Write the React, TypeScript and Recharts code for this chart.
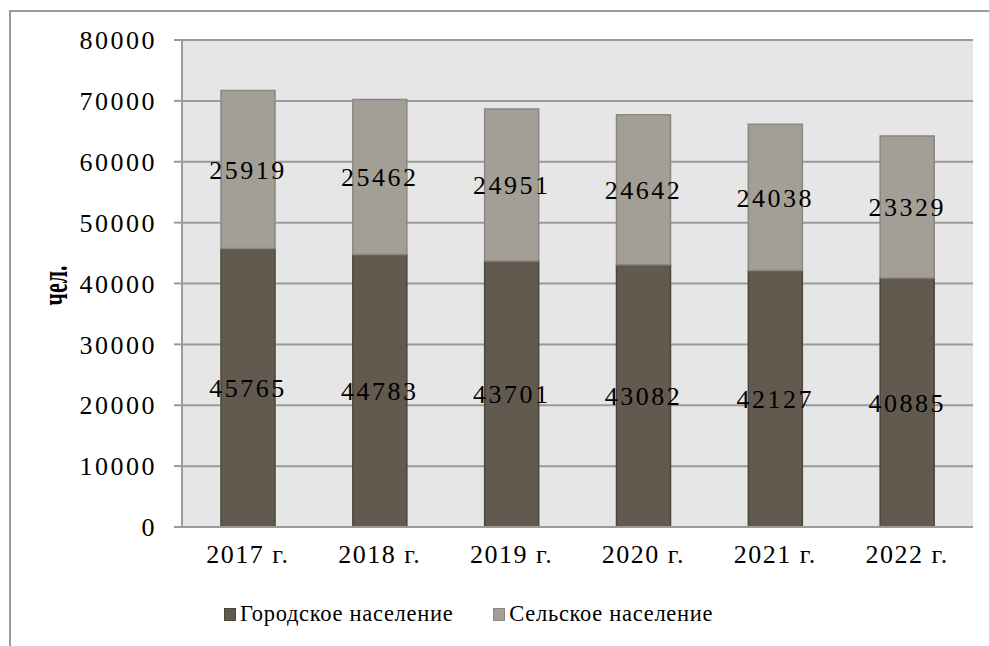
import { BarChart, Bar, XAxis, YAxis, CartesianGrid, Legend, LabelList } from 'recharts';

const YEARS = ['2017 г.', '2018 г.', '2019 г.', '2020 г.', '2021 г.', '2022 г.'];
const URBAN = [45765, 44783, 43701, 43082, 42127, 40885];
const RURAL = [25919, 25462, 24951, 24642, 24038, 23329];
const Y_TICKS = [0, 10000, 20000, 30000, 40000, 50000, 60000, 70000, 80000];
const EDGE_TICKS = [0, 1, 2, 3, 4, 5, 6];
const URBAN_NAME = 'Городское население';
const RURAL_NAME = 'Сельское население';
const UNIT = 'чел.';

const FONT = "'Liberation Serif', 'Times New Roman', serif";
const AXIS = '#9a9a9a';
const DARK = '#635a4f';
const DARK_EDGE = '#4b453d';
const LIGHT = '#a39f97';
const LIGHT_EDGE = '#8a8780';

const data = YEARS.map((year, i) => ({ year, urban: URBAN[i], rural: RURAL[i] }));

const numTxt = { fill: '#000', fontSize: 26, fontFamily: FONT, letterSpacing: 2.5 };
const catTxt = { fill: '#000', fontSize: 26, fontFamily: FONT, letterSpacing: 1.5 };

function UnitLabel(props: any) {
  const vb = props.viewBox || { x: 0, y: 0, width: 0, height: 0 };
  const cy = vb.y + vb.height / 2 + 2;
  return (
    <text
      transform={`translate(58,${cy}) rotate(-90) scale(1,1.6)`}
      textAnchor="middle"
      dy="0.25em"
      fontFamily={FONT}
      fontWeight="bold"
      fontSize={22}
      fill="#000"
    >
      {UNIT}
    </text>
  );
}

function LegendBox(props: any) {
  const items = props.payload || [];
  return (
    <div style={{ display: 'flex', alignItems: 'center', fontFamily: FONT, fontSize: 22.5, letterSpacing: 0.7, color: '#000', whiteSpace: 'nowrap' }}>
      {items.map((it: any, i: number) => {
        const dark = it.dataKey === 'urban';
        return (
          <div key={i} style={{ display: 'flex', alignItems: 'center', marginRight: i === 0 ? 40 : 0 }}>
            <span style={{ display: 'inline-block', width: 10, height: 11, background: dark ? DARK : LIGHT, border: `1px solid ${dark ? DARK_EDGE : LIGHT_EDGE}`, marginRight: 4 }} />
            <span>{it.value}</span>
          </div>
        );
      })}
    </div>
  );
}

export default function App() {
  return (
    <div style={{ position: 'relative', width: 989, height: 646, overflow: 'hidden' }}>
      <style>{'html,body{margin:0;padding:0;overflow:hidden}'}</style>
      <div style={{ position: 'absolute', left: 9, top: 10, width: 980, height: 2, background: AXIS }} />
      <div style={{ position: 'absolute', left: 9, top: 10, width: 2, height: 636, background: AXIS }} />
      <BarChart width={989} height={646} data={data} margin={{ top: 40, right: 16, bottom: 79, left: 0 }} style={{ position: 'absolute', left: 0, top: 0 }}>
        <CartesianGrid horizontal vertical={false} stroke={AXIS} strokeWidth={2} fill="#e6e6e6" />
        <XAxis
          xAxisId="edge"
          type="number"
          domain={[0, 6]}
          ticks={EDGE_TICKS}
          height={0}
          axisLine={false}
          tickSize={7}
          tickLine={{ stroke: AXIS, strokeWidth: 2 }}
          tick={() => <g />}
        />
        <XAxis
          dataKey="year"
          height={40}
          tickLine={false}
          axisLine={{ stroke: AXIS, strokeWidth: 2 }}
          tick={catTxt}
          tickMargin={12}
        />
        <YAxis
          width={182}
          domain={[0, 80000]}
          ticks={Y_TICKS}
          interval={0}
          tickSize={8}
          tickMargin={17}
          axisLine={{ stroke: AXIS, strokeWidth: 2 }}
          tickLine={{ stroke: AXIS, strokeWidth: 2 }}
          tick={numTxt}
          label={{ content: UnitLabel }}
        />
        <Legend
          layout="horizontal"
          verticalAlign="middle"
          align="center"
          content={LegendBox}
          wrapperStyle={{ top: 601, left: 224, width: 'auto' }}
        />
        <Bar dataKey="urban" name={URBAN_NAME} stackId="a" barSize={54} fill={DARK} stroke={DARK_EDGE} strokeWidth={1.5} isAnimationActive={false}>
          <LabelList dataKey="urban" position="center" style={numTxt} />
        </Bar>
        <Bar dataKey="rural" name={RURAL_NAME} stackId="a" barSize={54} fill={LIGHT} stroke={LIGHT_EDGE} strokeWidth={1.5} isAnimationActive={false}>
          <LabelList dataKey="rural" position="center" style={numTxt} />
        </Bar>
      </BarChart>
    </div>
  );
}
